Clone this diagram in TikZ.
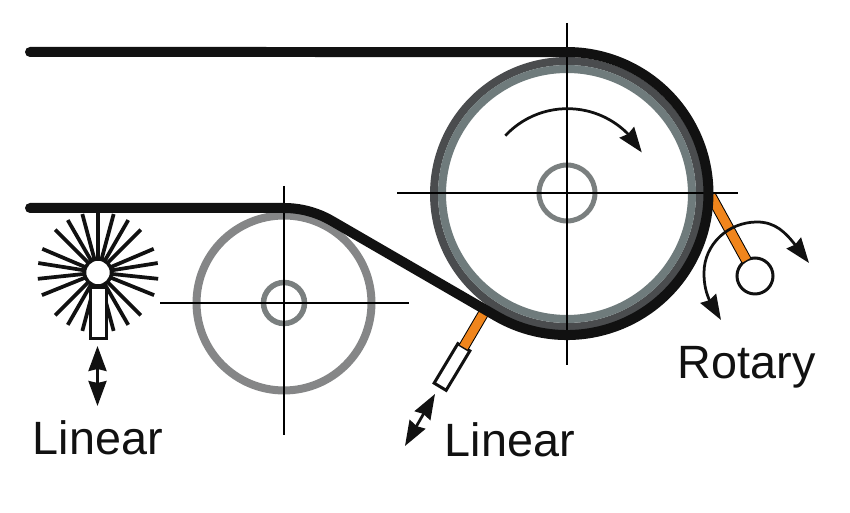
\documentclass[tikz,border=0pt]{standalone}
\usepackage{fontspec}
\setmainfont{Liberation Sans}
\usetikzlibrary{arrows.meta}
\usetikzlibrary{bending}
\definecolor{beltblack}{HTML}{111111}
\definecolor{ringdark}{HTML}{4A4C4E}
\definecolor{ringlight}{HTML}{6F7B7C}
\definecolor{ringgray}{HTML}{858687}
\definecolor{hubgray}{HTML}{7A7F7F}
\definecolor{armorange}{HTML}{F0851C}
\begin{document}
\begin{tikzpicture}[x=0.02cm,y=0.02cm]
			\tikzset{ring/.style={shape = circle, draw, inner sep = 0pt, outer sep = 0pt}}
			\tikzset{axis/.style={draw = black, line width = 0.3mm}}
			\tikzset{belt/.style={draw = beltblack, line width = 2mm, line cap = round}}
			\tikzset{arm/.style={draw = black, line width = 0.2mm, double = armorange, double distance = 1.8mm}}
			\tikzset{tube/.style={shape = rectangle, draw = beltblack, fill = white, line width = 0.6mm, inner sep = 0pt, outer sep = 0pt}}
			\tikzset{bristle/.style={draw = beltblack, line width = 0.75mm}}
			\tikzset{motion/.style={draw = beltblack, line width = 0.55mm, > = {Stealth[length = 5mm, width = 3.6mm, inset = 0.4mm]}}}
			\tikzset{caption/.style={anchor = base west, inner sep = 0pt, text = beltblack, font = \fontsize{26.6pt}{30pt}\selectfont}}
			\useasboundingbox (0, 0) rectangle (850, 513);
			\fill[white] (0, 0) rectangle (850, 513);
			%rollers
			\node[ring, draw = ringgray, line width = 1.6mm, minimum size = 35mm] (smallroller) at (284, 210) {};
			\node[ring, draw = hubgray, line width = 1.1mm, minimum size = 8.2mm] (smallhub) at (284, 210) {};
			\node[ring, draw = ringdark, line width = 1.6mm, minimum size = 53.2mm] (bigroller) at (567, 319) {};
			\node[ring, draw = ringlight, line width = 1.6mm, minimum size = 50mm] (biginner) at (567, 319) {};
			\node[ring, draw = hubgray, line width = 1mm, minimum size = 11.2mm] (bighub) at (567, 320) {};
			%center lines
			\draw[axis] (160, 210) -- (409, 210);
			\draw[axis] (284, 327) -- (284, 78);
			\draw[axis] (397, 320) -- (738, 320);
			\draw[axis] (567, 490) -- (567, 148);
			%contact points
			\coordinate (linearcontact) at (486, 204);
			\coordinate (rotarycontact) at (711, 317);
			%arms
			\node[tube, minimum width = 2.8mm, minimum height = 9.2mm, rotate = -31] (lineartube) at (452, 146) {};
			\node[ring, draw = beltblack, fill = white, line width = 0.6mm, minimum size = 7.2mm] (rotaryroller) at (755, 237) {};
			\draw[arm] (lineartube) -- (linearcontact);
			\draw[arm] (rotaryroller) -- (rotarycontact);
			%belt
			\draw[belt] (30, 305) -- (284, 305) arc (90:59.95:95) -- (496.1, 197) arc (239.95:450:141.5) -- (30, 461);
			%brush
			\node[ring, draw = beltblack, fill = white, line width = 0.7mm, minimum size = 5.4mm] (brushhub) at (98, 240.5) {};
			\foreach \ang in {90, 105, 120, 135, 157, 171, 186, 202, 225, 240, 255, 285, 300, 315, 338, 354, 9, 23, 45, 60, 75}
				\draw[bristle] (brushhub.\ang) -- ++(\ang:47);
			\node[tube, minimum width = 3.2mm, minimum height = 10.2mm] (brushtube) at (98.5, 199.5) {};
			%motion arrows
			\coordinate (brushup) at (97.5, 167);
			\coordinate (brushdown) at (97.5, 107);
			\coordinate (linearup) at (435, 119);
			\coordinate (lineardown) at (405, 67);
			\coordinate (rotaryleft) at (721, 193);
			\coordinate (rotaryside) at (704, 240);
			\coordinate (rotarytop) at (757, 291);
			\coordinate (rotaryright) at (809, 250);
			\draw[motion, <->] (brushup) -- (brushdown);
			\draw[motion, <->] (linearup) -- (lineardown);
			\draw[motion, <->] (rotaryleft) to[out = 124, in = 270] (rotaryside) to[out = 90, in = 180] (rotarytop) to[out = 0, in = 129] (rotaryright);
			\draw[motion, ->] (505.3, 377.3) arc (137:29:85);
			%labels
			\node[caption] (linearbrush) at (32.5, 58) {Linear};
			\node[caption] (linearblade) at (444.5, 56) {Linear};
			\node[caption] (rotaryblade) at (677.5, 134) {Rotary};
			\end{tikzpicture}
\end{document}
